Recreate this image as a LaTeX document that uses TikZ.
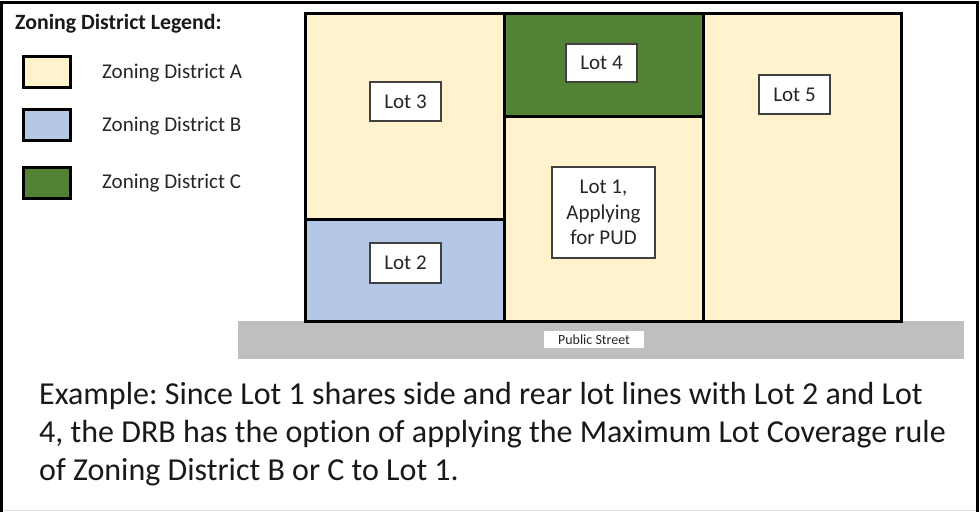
\documentclass[tikz,border=0pt]{standalone}
\usepackage{fontspec}
\setmainfont{Carlito}[Ligatures=NoCommon]
\definecolor{zoneA}{HTML}{FFF2CC}
\definecolor{zoneB}{HTML}{B4C7E7}
\definecolor{zoneC}{HTML}{548235}
\definecolor{street}{HTML}{BFBFBF}
\definecolor{labelrule}{HTML}{404040}
\frenchspacing
\begin{document}
\begin{tikzpicture}[x=1pt,y=-1pt,
  lot/.style={draw=black,line width=3pt},
  legendbox/.style={draw=black,line width=3pt},
  lotlabel/.style={draw=labelrule,line width=1.2pt,fill=white,inner sep=0pt,
    font=\fontsize{21}{25.5}\selectfont,text=black!85,align=center},
  legendtext/.style={anchor=west,inner sep=0pt,font=\fontsize{21}{25}\selectfont,text=black!85},
  bodytext/.style={anchor=base west,inner sep=0pt,font=\fontsize{32}{38}\selectfont,text=black!90}]
\useasboundingbox (0,0) rectangle (980,512);
\fill[white] (0,0) rectangle (980,512);

% frame
\draw[black!12,line width=1pt] (1.5,510.5) -- (977,510.5);
\draw[black,line width=3pt] (1.5,512) -- (1.5,2) -- (977,2) -- (977,512);

% legend
\node[anchor=west,inner sep=0pt,font=\bfseries\fontsize{21.8}{25}\selectfont,text=black!90] (title) at (15,24) {Zoning District Legend:};
\filldraw[legendbox,fill=zoneA] (23,56) rectangle (70,87);
\filldraw[legendbox,fill=zoneB] (23,109) rectangle (70,140);
\filldraw[legendbox,fill=zoneC] (23,167) rectangle (70,198);
\node[legendtext] (legA) at (102,73) {Zoning District A};
\node[legendtext] (legB) at (102,126) {Zoning District B};
\node[legendtext] (legC) at (102,183) {Zoning District C};

% public street
\fill[street] (238,321) rectangle (964,359);
\node[fill=white,inner sep=0pt,minimum width=100pt,minimum height=17pt,
  font=\fontsize{14}{16}\selectfont,text=black!85] (street) at (594,339.5) {Public Street};

% lots
\filldraw[lot,fill=zoneA] (305,13) rectangle (504,219);
\filldraw[lot,fill=zoneB] (305,219) rectangle (504,321);
\filldraw[lot,fill=zoneC] (504,13) rectangle (703,116);
\filldraw[lot,fill=zoneA] (504,116) rectangle (703,321);
\filldraw[lot,fill=zoneA] (703,13) rectangle (901,321);

% lot labels
\node[lotlabel,minimum width=71pt,minimum height=39pt] (lot3) at (405.5,101.5) {Lot 3};
\node[lotlabel,minimum width=71pt,minimum height=40pt] (lot2) at (405.5,263) {Lot 2};
\node[lotlabel,minimum width=71pt,minimum height=38pt] (lot4) at (601.5,63) {Lot 4};
\node[lotlabel,minimum width=103pt,minimum height=91pt] (lot1) at (603.5,212.5) {Lot 1,\\Applying\\for PUD};
\node[lotlabel,minimum width=71pt,minimum height=39pt] (lot5) at (794.5,94.5) {Lot 5};

% explanation
\node[bodytext] (line1) at (39,404) {Example: Since Lot 1 shares side and rear lot lines with Lot 2 and Lot};
\node[bodytext] (line2) at (39,442) {4, the DRB has the option of applying the Maximum Lot Coverage rule};
\node[bodytext] (line3) at (39,480) {of Zoning District B or C to Lot 1.};
\end{tikzpicture}
\end{document}
